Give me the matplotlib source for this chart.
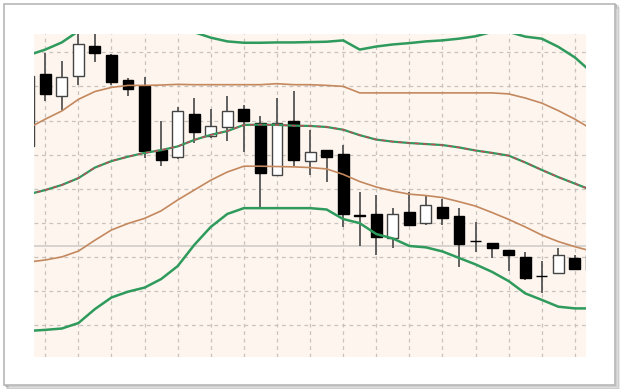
"""Bollinger bands with candlesticks"""

import matplotlib
matplotlib.use("Agg")
import matplotlib.pyplot as plt
import numpy as np
from matplotlib.patches import Rectangle

# candle index (bar number), -1 and 33 are cut by the chart edge
idx = np.arange(-1, 34)

# OHLC
opens = [72.4, 93.7, 87.1, 93.1, 101.8, 99.1, 92.0, 90.0, 71.3, 69.2,
         81.9, 75.4, 78.0, 83.5, 79.3, 64.1, 79.9, 68.0, 71.3, 70.2,
         52.1, 52.6, 45.5, 53.3, 49.9, 54.7, 52.0, 44.7, 44.0, 42.0,
         40.1, 34.4, 35.4, 39.8, 36.2]
highs = [94.2, 99.8, 97.4, 107.1, 107.1, 99.6, 92.5, 92.8, 79.9, 83.9,
         86.6, 83.4, 87.1, 84.5, 81.2, 86.6, 88.7, 77.3, 71.3, 72.9,
         59.0, 58.1, 54.2, 59.1, 58.1, 56.9, 54.2, 50.3, 44.0, 42.0,
         41.5, 38.8, 42.5, 40.6, 41.4]
lows = [71.3, 85.8, 83.2, 90.5, 97.1, 90.5, 87.1, 69.0, 66.7, 68.7,
        73.4, 74.9, 74.1, 70.8, 54.6, 63.6, 66.6, 64.1, 62.0, 48.7,
        43.2, 40.6, 42.7, 49.4, 49.4, 49.4, 37.1, 41.5, 39.6, 35.9,
        33.2, 29.3, 35.4, 36.2, 35.6]
closes = [93.1, 87.9, 92.7, 102.5, 99.8, 91.2, 89.3, 71.0, 68.5, 82.7,
          76.6, 78.5, 82.7, 79.9, 64.6, 79.3, 68.5, 70.8, 69.2, 52.6,
          52.0, 45.9, 52.6, 49.4, 55.2, 51.3, 43.8, 44.6, 42.5, 40.6,
          33.7, 34.3, 40.6, 36.4, 40.6]

# bands
upper2 = [99.2, 100.8, 102.9, 106.2, 107.7, 108.9, 109.5, 109.5, 108.9, 107.7,
          105.9, 104.3, 103.2, 102.8, 102.8, 102.9, 102.9, 103.0, 103.1, 103.5,
          100.8, 101.7, 102.3, 102.7, 103.2, 103.5, 104.0, 104.7, 106.0, 106.0,
          104.6, 104.0, 101.6, 98.5, 94.2]
upper1 = [77.8, 80.4, 82.8, 86.2, 88.5, 89.7, 90.3, 90.3, 90.4, 90.6,
          90.5, 90.5, 90.5, 90.5, 90.5, 90.8, 90.5, 90.5, 90.3, 90.0,
          88.1, 88.1, 88.1, 88.1, 88.1, 88.1, 88.1, 88.1, 88.1, 87.8,
          86.6, 85.1, 82.9, 80.4, 77.5]
middle = [58.4, 59.6, 61.1, 63.1, 66.2, 68.1, 69.4, 70.5, 71.3, 72.4,
          74.3, 75.8, 76.9, 78.7, 78.8, 78.7, 78.5, 78.4, 78.1, 77.3,
          75.7, 74.4, 73.8, 73.4, 73.1, 72.8, 72.1, 71.2, 70.5, 69.7,
          67.7, 65.5, 63.4, 61.5, 59.6]
lower1 = [38.5, 39.1, 40.0, 41.7, 44.9, 47.9, 49.8, 51.3, 53.5, 56.7,
          59.6, 62.5, 64.9, 66.6, 66.6, 66.5, 66.4, 66.2, 65.8, 64.2,
          62.1, 60.5, 59.3, 58.4, 58.0, 57.4, 56.2, 54.9, 53.0, 51.0,
          48.8, 46.4, 44.5, 43.0, 41.7]
lower2 = [18.3, 18.6, 19.0, 20.6, 24.7, 28.1, 29.8, 31.0, 33.5, 37.3,
          43.5, 48.8, 52.6, 54.3, 54.3, 54.3, 54.3, 54.3, 53.9, 51.1,
          49.9, 46.7, 45.4, 43.2, 42.8, 41.6, 39.7, 37.8, 35.6, 32.9,
          29.3, 27.4, 25.4, 24.9, 24.9]
level = 43.2  # horizontal level line

fig = plt.figure(figsize=(6.2, 3.89), dpi=100)
fig.patch.set_facecolor("white")

# frame with a soft shadow (behind the axes)
for k, a in enumerate([0.08, 0.12, 0.18]):
    off = (3 - k) * 0.0022
    fig.patches.append(Rectangle((0.007 + off, 0.010 - off * 1.5), 0.985, 0.980,
                                 transform=fig.transFigure, facecolor="none",
                                 edgecolor=(0, 0, 0, a), linewidth=1.5, zorder=-10))
fig.patches.append(Rectangle((0.007, 0.010), 0.985, 0.980, transform=fig.transFigure,
                             facecolor="white", edgecolor="#b8b8b8", linewidth=1.2,
                             zorder=-9))

ax = fig.add_axes([0.0548, 0.0823, 0.8903, 0.8303])
ax.set_zorder(1)
ax.set_facecolor("#fdf5ee")
ax.set_xlim(-0.683, 32.67)
ax.set_ylim(10.65, 105.37)

# grid
ax.set_xticks(np.arange(0, 33, 2))
ax.set_yticks(np.arange(20, 101, 10))
ax.grid(True, color="#c9c3bd", linestyle=(0, (3, 3)), linewidth=0.9)
ax.tick_params(length=0, labelbottom=False, labelleft=False)
for s in ax.spines.values():
    s.set_visible(False)

ax.axhline(level, color="#d4d0cc", linewidth=1.3, zorder=1)

# candles
o = np.array(opens)
c = np.array(closes)
up = c >= o
ax.vlines(idx, lows, highs, color="#555555", linewidth=1.3, zorder=2)
body = np.maximum(np.abs(c - o), 0.15)
ax.bar(idx[up], body[up], bottom=np.minimum(o, c)[up], width=0.66,
       color="white", edgecolor="#444444", linewidth=1.0, zorder=3)
ax.bar(idx[~up], body[~up], bottom=np.minimum(o, c)[~up], width=0.66,
       color="black", edgecolor="black", linewidth=1.0, zorder=3)

# bands
ax.plot(idx, upper2, color="#2e9a5c", linewidth=1.8, zorder=4)
ax.plot(idx, lower2, color="#2e9a5c", linewidth=1.8, zorder=4)
ax.plot(idx, upper1, color="#c4885e", linewidth=1.2, zorder=4)
ax.plot(idx, lower1, color="#c4885e", linewidth=1.2, zorder=4)
ax.plot(idx, middle, color="#2e9a5c", linewidth=1.6, zorder=4)
ax.plot(idx, middle, color="#c2485a", linewidth=1.0, linestyle=(0, (3, 3)), zorder=5)

fig.savefig("out.png", dpi=100)
